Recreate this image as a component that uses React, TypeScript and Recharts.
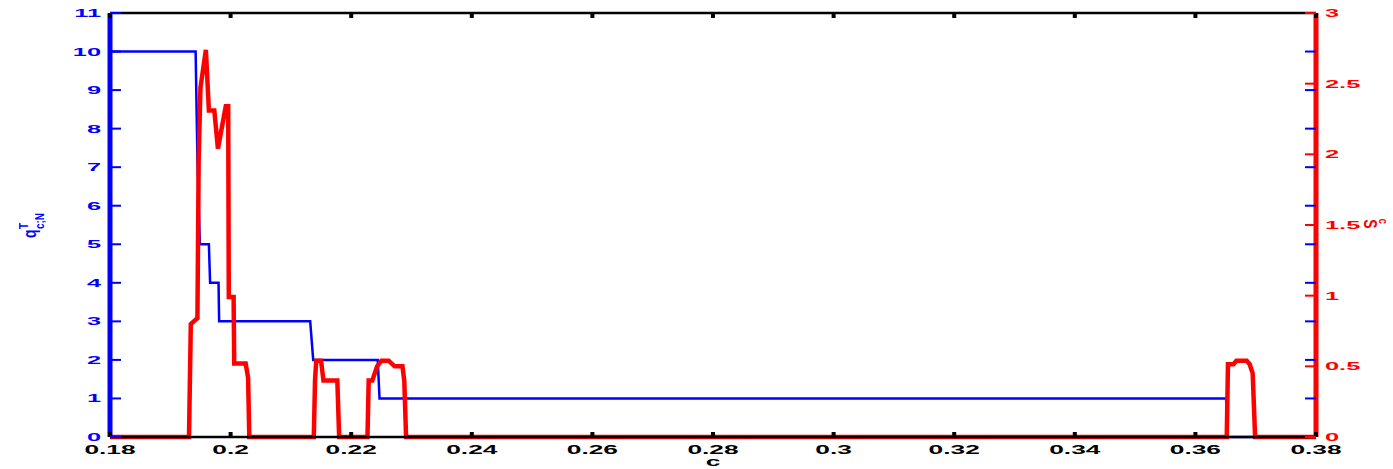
import React from "react";
import { LineChart, Line, XAxis, YAxis, ReferenceLine, Label } from "recharts";

// ---- data ----
const blueC = [0.18, 0.1942, 0.1945, 0.1949, 0.1964, 0.1966, 0.198, 0.1981, 0.2132, 0.2137, 0.2244, 0.2247, 0.3651, 0.3652, 0.38];
const blueQ = [10, 10, 7.2, 5, 5, 4, 4, 3, 3, 2, 2, 1, 1, 0, 0];

const redC = [
  0.18, 0.1931, 0.1934, 0.1945, 0.1947, 0.195, 0.1959, 0.1964, 0.1973, 0.1979, 0.1992, 0.1996, 0.1997, 0.2005, 0.2006,
  0.2025, 0.2029, 0.2031, 0.2138, 0.214, 0.2142, 0.215, 0.2154, 0.2177, 0.218, 0.2227, 0.2229, 0.2235, 0.2243, 0.225,
  0.2262, 0.2272, 0.2285, 0.2288, 0.2291, 0.3652, 0.3654, 0.3663, 0.3668, 0.3685, 0.369, 0.3695, 0.3699, 0.38,
];
const redS = [
  0, 0, 0.8, 0.84, 1.96, 2.47, 2.74, 2.31, 2.31, 2.04, 2.34, 2.34, 0.99, 0.99, 0.52,
  0.52, 0.42, 0, 0, 0.4, 0.54, 0.54, 0.4, 0.4, 0, 0, 0.4, 0.4, 0.5, 0.54,
  0.54, 0.5, 0.5, 0.4, 0, 0, 0.515, 0.515, 0.54, 0.54, 0.515, 0.45, 0, 0,
];

const xTicks = [0.18, 0.2, 0.22, 0.24, 0.26, 0.28, 0.3, 0.32, 0.34, 0.36, 0.38];
const xTickLabels = ["0.18", "0.2", "0.22", "0.24", "0.26", "0.28", "0.3", "0.32", "0.34", "0.36", "0.38"];
const leftTicks = [0, 1, 2, 3, 4, 5, 6, 7, 8, 9, 10, 11];
const rightTicks = [0, 0.5, 1, 1.5, 2, 2.5, 3];
const rightTickLabels = ["0", "0.5", "1", "1.5", "2", "2.5", "3"];

const blueData = blueC.map((c, i) => ({ c, q: blueQ[i] }));
const redData = redC.map((c, i) => ({ c, s: redS[i] }));

// ---- layout ----
const W = 1393;
const H = 469;
const LEFT_W = 110;
const RIGHT_W = 77;
const X_H = 32;
const TOP = 13;
const PLOT_L = LEFT_W;
const PLOT_R = W - RIGHT_W;
const PLOT_T = TOP;
const PLOT_B = H - X_H;

const BLUE = "#0000ff";
const RED = "#ff0000";
const FONT = "'Liberation Sans', Arial, Helvetica, sans-serif";

const XTick = (props: any) => {
  const { x, payload, index } = props;
  const lbl = xTickLabels[index] ?? String(payload.value);
  return (
    <g>
      <line x1={x} x2={x} y1={PLOT_B} y2={PLOT_B - 5} stroke="#000" strokeWidth={4} />
      <line x1={x} x2={x} y1={PLOT_T} y2={PLOT_T + 5} stroke="#000" strokeWidth={4} />
      <text
        transform={`translate(${x},${PLOT_B + 16.5}) scale(1.95,1)`}
        textAnchor="middle"
        fontFamily={FONT}
        fontWeight="bold"
        fontSize={13.5}
        fill="#000"
      >
        {lbl}
      </text>
    </g>
  );
};

const LeftTick = (props: any) => {
  const { y, payload } = props;
  return (
    <g>
      <line x1={PLOT_L} x2={PLOT_L + 11} y1={y} y2={y} stroke={BLUE} strokeWidth={2} />
      <line x1={PLOT_R} x2={PLOT_R - 11} y1={y} y2={y} stroke={BLUE} strokeWidth={2} />
      <text
        transform={`translate(${PLOT_L - 9},${y + 4}) scale(2.15,1)`}
        textAnchor="end"
        fontFamily={FONT}
        fontWeight="bold"
        fontSize={11.8}
        fill={BLUE}
      >
        {String(payload.value)}
      </text>
    </g>
  );
};

const RightTick = (props: any) => {
  const { y, index, payload } = props;
  const lbl = rightTickLabels[index] ?? String(payload.value);
  return (
    <g>
      <line x1={PLOT_R} x2={PLOT_R - 11} y1={y} y2={y} stroke={RED} strokeWidth={2} />
      <text
        transform={`translate(${PLOT_R + 9},${y + 4}) scale(2.15,1)`}
        textAnchor="start"
        fontFamily={FONT}
        fontWeight="bold"
        fontSize={11.8}
        fill={RED}
      >
        {lbl}
      </text>
    </g>
  );
};

const LeftAxisLabel = () => (
  <g transform={`translate(36,238) scale(1.35,1) rotate(-90)`} fontFamily={FONT} fontWeight="bold" fill={BLUE}>
    <text x={0} y={0} fontSize={14}>q</text>
    <text x={9} y={-6} fontSize={10}>T</text>
    <text x={9} y={6} fontSize={10}>c;N</text>
  </g>
);

const RightAxisLabel = () => (
  <g transform={`translate(1371,224) scale(1.35,1) rotate(90)`} fontFamily={FONT} fontWeight="bold" fill={RED}>
    <text x={0} y={5} fontSize={14} textAnchor="middle">S</text>
    <text x={0} y={-6} fontSize={10} textAnchor="end">c</text>
  </g>
);

const XAxisLabel = () => (
  <text
    transform={`translate(${(PLOT_L + PLOT_R) / 2},466) scale(1.95,1)`}
    textAnchor="middle"
    fontFamily={FONT}
    fontWeight="bold"
    fontSize={13.5}
    fill="#000"
  >
    c
  </text>
);

export default function App() {
  return (
    <div style={{ position: "absolute", left: 0, top: 0, width: W, height: H, background: "#fff" }}>
      <LineChart width={W} height={H} margin={{ top: TOP, right: 0, bottom: 0, left: 0 }}>
        <XAxis
          dataKey="c"
          type="number"
          domain={[0.18, 0.38]}
          ticks={xTicks}
          interval={0}
          allowDataOverflow
          height={X_H}
          tickSize={0}
          tickMargin={0}
          tickLine={false}
          tick={<XTick />}
          axisLine={{ stroke: "#000", strokeWidth: 2.5 }}
        >
          <Label content={<XAxisLabel />} />
        </XAxis>
        <YAxis
          yAxisId="left"
          orientation="left"
          domain={[0, 11]}
          ticks={leftTicks}
          interval={0}
          width={LEFT_W}
          tickSize={0}
          tickMargin={0}
          tickLine={false}
          tick={<LeftTick />}
          axisLine={{ stroke: BLUE, strokeWidth: 5 }}
        >
          <Label content={<LeftAxisLabel />} />
        </YAxis>
        <YAxis
          yAxisId="right"
          orientation="right"
          domain={[0, 3]}
          ticks={rightTicks}
          interval={0}
          width={RIGHT_W}
          tickSize={0}
          tickMargin={0}
          tickLine={false}
          tick={<RightTick />}
          axisLine={{ stroke: RED, strokeWidth: 5 }}
        >
          <Label content={<RightAxisLabel />} />
        </YAxis>
        <ReferenceLine yAxisId="left" y={11} stroke="#000" strokeWidth={2.5} ifOverflow="visible" />
        <Line
          yAxisId="left"
          data={blueData}
          dataKey="q"
          type="linear"
          stroke={BLUE}
          strokeWidth={2.5}
          dot={false}
          activeDot={false}
          isAnimationActive={false}
        />
        <Line
          yAxisId="right"
          data={redData}
          dataKey="s"
          type="linear"
          stroke={RED}
          strokeWidth={4.5}
          dot={false}
          activeDot={false}
          isAnimationActive={false}
        />
      </LineChart>
    </div>
  );
}
